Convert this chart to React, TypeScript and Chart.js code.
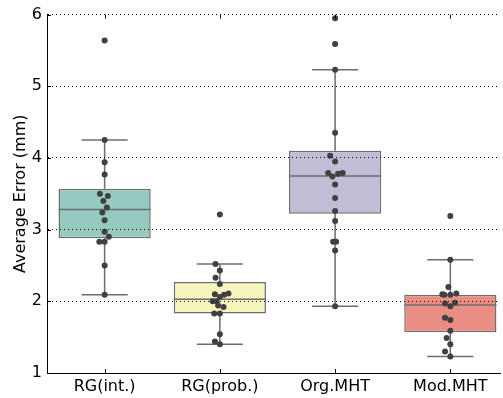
import React, { useEffect, useRef } from 'react';
import { Chart, registerables } from 'chart.js';

Chart.register(...registerables);

const categories = ['RG(int.)', 'RG(prob.)', 'Org.MHT', 'Mod.MHT'];
const yTickValues = [1, 2, 3, 4, 5, 6];

// box statistics per category
const q1 = [2.88, 1.83, 3.22, 1.57];
const medians = [3.28, 2.03, 3.75, 1.95];
const q3 = [3.57, 2.27, 4.1, 2.09];
const whiskerLow = [2.09, 1.4, 1.93, 1.23];
const whiskerHigh = [4.25, 2.52, 5.23, 2.58];

// individual observations (swarm) and their horizontal swarm offsets (category units)
const rgIntValues = [5.64, 4.25, 3.94, 3.77, 3.5, 3.47, 3.4, 3.31, 3.24, 3.13, 2.97, 2.9, 2.83, 2.83, 2.5, 2.09];
const rgIntOffsets = [0, 0, 0, 0, -0.041, 0.028, -0.011, 0.02, -0.02, 0, 0, 0.037, -0.046, 0, 0, 0];

const rgProbValues = [3.21, 2.52, 2.43, 2.33, 2.24, 2.11, 2.1, 2.09, 2.06, 2.0, 2.0, 1.94, 1.92, 1.83, 1.83, 1.54, 1.44, 1.4];
const rgProbOffsets = [0, -0.037, 0, -0.037, 0, 0.075, -0.043, 0.037, 0, -0.063, -0.028, -0.015, 0.032, -0.049, 0, 0, -0.043, 0];

const orgMhtValues = [5.95, 5.59, 5.23, 4.35, 4.03, 3.95, 3.79, 3.78, 3.79, 3.74, 3.63, 3.44, 3.26, 3.12, 2.83, 2.83, 2.71, 1.93];
const orgMhtOffsets = [0, 0, 0, 0, -0.043, 0, -0.06, 0.026, 0.066, -0.023, 0, 0, 0, 0, -0.017, 0.009, 0, 0];

const modMhtValues = [3.19, 2.58, 2.2, 2.1, 2.09, 2.09, 2.11, 1.98, 1.97, 1.93, 1.77, 1.74, 1.59, 1.49, 1.4, 1.3, 1.23];
const modMhtOffsets = [0, 0, -0.017, -0.069, -0.052, 0, 0.052, 0.041, -0.046, 0, -0.046, 0, 0, -0.032, 0, -0.046, 0];

const allValues = [rgIntValues, rgProbValues, orgMhtValues, modMhtValues];
const allOffsets = [rgIntOffsets, rgProbOffsets, orgMhtOffsets, modMhtOffsets];

const boxColors = ['#96cac1', '#f6f6bc', '#c1bdd6', '#ea8e83'];
const lineGray = '#6d6d6d';
const pointColor = '#404040';
const FONT = { family: 'DejaVu Sans', size: 16 };

export default function App() {
  const ref = useRef<HTMLCanvasElement>(null);

  useEffect(() => {
    if (!ref.current) return;

    const points: { x: number; y: number }[] = [];
    allValues.forEach((vals, i) => {
      vals.forEach((v, j) => points.push({ x: i + allOffsets[i][j], y: v }));
    });

    const boxParts = {
      id: 'boxParts',
      beforeDatasetsDraw(chart: any) {
        const { ctx, scales } = chart;
        const xs = scales.x;
        const ys = scales.y;
        ctx.save();
        ctx.strokeStyle = lineGray;
        ctx.lineWidth = 1.5;
        categories.forEach((_, i) => {
          const cx = xs.getPixelForValue(i);
          const capL = xs.getPixelForValue(i - 0.2);
          const capR = xs.getPixelForValue(i + 0.2);
          const yHi = ys.getPixelForValue(whiskerHigh[i]);
          const yLo = ys.getPixelForValue(whiskerLow[i]);
          const yQ3 = ys.getPixelForValue(q3[i]);
          const yQ1 = ys.getPixelForValue(q1[i]);
          ctx.beginPath();
          ctx.moveTo(cx, yQ3);
          ctx.lineTo(cx, yHi);
          ctx.moveTo(cx, yQ1);
          ctx.lineTo(cx, yLo);
          ctx.moveTo(capL, yHi);
          ctx.lineTo(capR, yHi);
          ctx.moveTo(capL, yLo);
          ctx.lineTo(capR, yLo);
          ctx.stroke();
        });
        ctx.restore();
      },
      afterDatasetDraw(chart: any, args: any) {
        if (args.meta.type !== 'bar') return;
        const { ctx, scales } = chart;
        const xs = scales.x;
        const ys = scales.y;
        ctx.save();
        ctx.strokeStyle = lineGray;
        ctx.lineWidth = 1.5;
        categories.forEach((_, i) => {
          const l = xs.getPixelForValue(i - 0.4);
          const r = xs.getPixelForValue(i + 0.4);
          const y = ys.getPixelForValue(medians[i]);
          ctx.beginPath();
          ctx.moveTo(l, y);
          ctx.lineTo(r, y);
          ctx.stroke();
        });
        ctx.restore();
      },
      afterDraw(chart: any) {
        const { ctx, scales, chartArea } = chart;
        const xs = scales.x;
        const ys = scales.y;
        ctx.save();
        ctx.strokeStyle = '#000';
        ctx.lineWidth = 1;
        ctx.beginPath();
        yTickValues.forEach((v) => {
          const y = Math.round(ys.getPixelForValue(v)) + 0.5;
          ctx.moveTo(chartArea.left, y);
          ctx.lineTo(chartArea.left + 4, y);
        });
        categories.forEach((_, i) => {
          const x = Math.round(xs.getPixelForValue(i)) + 0.5;
          ctx.moveTo(x, chartArea.bottom);
          ctx.lineTo(x, chartArea.bottom - 4);
          ctx.moveTo(x, chartArea.top);
          ctx.lineTo(x, chartArea.top + 4);
        });
        ctx.stroke();
        ctx.restore();
      },
    };

    const chart = new Chart(ref.current, {
      type: 'bar',
      data: {
        datasets: [
          {
            type: 'scatter',
            data: points,
            pointRadius: 3,
            pointBackgroundColor: pointColor,
            pointBorderWidth: 0,
            pointHoverRadius: 3,
          } as any,
          {
            type: 'bar',
            data: categories.map((_, i) => ({ x: i, y: [q1[i], q3[i]] })),
            backgroundColor: boxColors,
            borderColor: lineGray,
            borderWidth: 1.5,
            borderSkipped: false,
            barPercentage: 0.8,
            categoryPercentage: 1,
          } as any,
        ],
      },
      options: {
        responsive: false,
        animation: false,
        devicePixelRatio: 1,
        events: [],
        layout: { padding: { top: 14, left: 0, right: 0, bottom: 0 } },
        plugins: { legend: { display: false }, tooltip: { enabled: false } },
        scales: {
          x: {
            type: 'linear',
            min: -0.5,
            max: 3.431,
            offset: false,
            afterBuildTicks: (s: any) => {
              s.ticks = categories.map((_, i) => ({ value: i }));
            },
            afterFit: (s: any) => {
              s.height = 25;
            },
            ticks: {
              callback: (v: any) => categories[v as number] ?? '',
              font: FONT,
              color: '#000',
              padding: 4,
              autoSkip: false,
              maxRotation: 0,
            },
            grid: { display: false, drawTicks: false, offset: false },
            border: { display: true, color: '#000', width: 1 },
          },
          y: {
            min: 1,
            max: 6,
            afterBuildTicks: (s: any) => {
              s.ticks = yTickValues.map((v) => ({ value: v }));
            },
            afterFit: (s: any) => {
              s.width = 47;
            },
            ticks: { font: FONT, color: '#000', padding: 5 },
            grid: { color: '#000', lineWidth: 1, drawTicks: false, z: 1 },
            border: { display: true, color: '#000', width: 1, dash: [1, 3], z: 1 },
            title: {
              display: true,
              text: 'Average Error (mm)',
              font: FONT,
              color: '#000',
              padding: { top: 11, bottom: 0 },
            },
          },
        },
      } as any,
      plugins: [boxParts],
    });

    return () => chart.destroy();
  }, []);

  return (
    <div style={{ position: 'fixed', left: 0, top: 0, width: 503, height: 398, background: '#fff' }}>
      <canvas ref={ref} width={503} height={398} />
    </div>
  );
}
